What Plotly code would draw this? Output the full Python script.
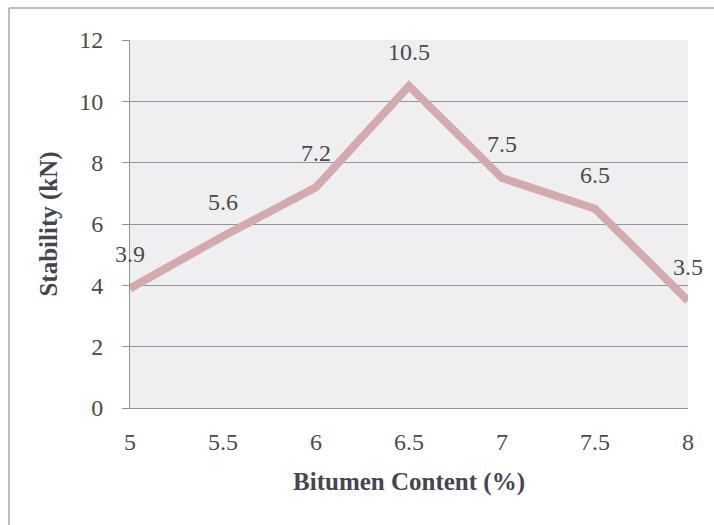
import plotly.graph_objects as go

# Marshall stability against bitumen content
bitumen_content = [5, 5.5, 6, 6.5, 7, 7.5, 8]
stability_kn = [3.9, 5.6, 7.2, 10.5, 7.5, 6.5, 3.5]
y_ticks = [0, 2, 4, 6, 8, 10, 12]

SERIF = "Liberation Serif"
LINE_COLOR = "#d3aaae"
GRID_COLOR = "#8f939c"
TEXT_COLOR = "#4a4a4a"

fig = go.Figure()
fig.add_trace(go.Scatter(
    x=bitumen_content,
    y=stability_kn,
    mode="lines",
    line=dict(color=LINE_COLOR, width=8),
    hoverinfo="x+y",
    showlegend=False,
    cliponaxis=False,
))

# value labels above each point
for xv, yv in zip(bitumen_content, stability_kn):
    fig.add_annotation(
        x=xv, y=yv, text=f"{yv:g}", showarrow=False,
        xanchor="center", yanchor="middle", yshift=34,
        font=dict(family=SERIF, size=24, color=TEXT_COLOR),
    )

# outer frame of the chart area
fig.add_shape(type="line", xref="paper", yref="paper",
              x0=-0.2168, x1=1.1, y0=1.087, y1=1.087,
              line=dict(color="#a8a8a8", width=1.5))
fig.add_shape(type="line", xref="paper", yref="paper",
              x0=-0.2168, x1=-0.2168, y0=1.087, y1=-0.4,
              line=dict(color="#a8a8a8", width=1.5))

fig.update_layout(
    width=714, height=525,
    margin=dict(l=130, r=26, t=40, b=117),
    paper_bgcolor="white",
    plot_bgcolor="#efeff1",
    font=dict(family=SERIF, color=TEXT_COLOR),
)
fig.update_xaxes(
    range=[5, 8], tickvals=bitumen_content,
    ticktext=[f"{v:g}" for v in bitumen_content],
    showgrid=False, zeroline=False,
    showline=True, linecolor=GRID_COLOR, linewidth=1,
    ticks="", ticklabelstandoff=12,
    tickfont=dict(family=SERIF, size=24, color=TEXT_COLOR),
    title=dict(text="<b>Bitumen Content (%)</b>", standoff=18,
               font=dict(family=SERIF, size=25, color="#454550")),
)
fig.update_yaxes(
    range=[0, 12], tickvals=y_ticks,
    showgrid=True, gridcolor=GRID_COLOR, gridwidth=1,
    zeroline=False,
    showline=True, linecolor=GRID_COLOR, linewidth=1,
    ticks="outside", ticklen=7, tickcolor=GRID_COLOR,
    ticklabelstandoff=14,
    tickfont=dict(family=SERIF, size=24, color=TEXT_COLOR),
    title=dict(text="<b>Stability (kN)</b>", standoff=14,
               font=dict(family=SERIF, size=25, color="#454550")),
)

fig.write_html("out.html")
